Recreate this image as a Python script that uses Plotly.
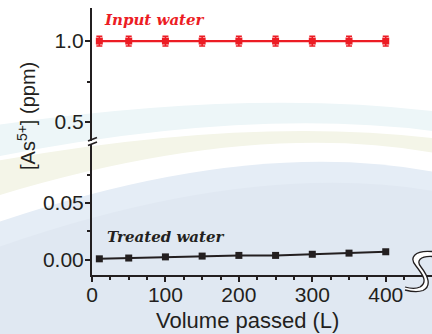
import plotly.graph_objects as go

# ---------------- data ----------------
volume = [10, 50, 100, 150, 200, 250, 300, 350, 400]
input_as = [1.0, 1.0, 1.0, 1.0, 1.0, 1.0, 1.0, 1.0, 1.0]
input_err = [0.03, 0.03, 0.03, 0.03, 0.03, 0.03, 0.03, 0.03, 0.03]
treated_as = [0.001, 0.0017, 0.0027, 0.0034, 0.004, 0.004, 0.005, 0.006, 0.0072]

x_ticks = [0, 100, 200, 300, 400]
x_minor = [25, 50, 75, 125, 150, 175, 225, 250, 275, 325, 350, 375, 425]
y_low_ticks = [0.0, 0.05]
y_low_minor = [0.025, 0.075]
y_high_ticks = [0.5, 1.0]
y_high_minor = [0.75]

RED = "#ec1c24"
INK = "#231f20"

W, H = 432, 334
L, R, T, B = 92, 0, 8, 59
PW, PH = W - L - R, H - T - B


def px(x, y):
    return (x - L) / PW, (H - B - y) / PH


def path(cmds):
    out = []
    for c in cmds:
        if isinstance(c, str):
            out.append(c)
        else:
            a, b = px(*c)
            out.append(f"{a:.5f},{b:.5f}")
    return " ".join(out)


fig = go.Figure()
fig.add_trace(go.Scatter(
    x=volume, y=treated_as, xaxis="x", yaxis="y", mode="lines+markers",
    line=dict(color=INK, width=2), marker=dict(symbol="square", size=7, color=INK),
    showlegend=False, cliponaxis=False))
fig.add_trace(go.Scatter(
    x=volume, y=input_as, xaxis="x", yaxis="y2", mode="lines+markers",
    line=dict(color=RED, width=2.2), marker=dict(symbol="square", size=7, color=RED),
    error_y=dict(type="data", array=input_err, color=RED, thickness=1.5, width=3),
    showlegend=False, cliponaxis=False))

axcommon = dict(showline=True, linecolor=INK, linewidth=2, ticks="outside", ticklen=5,
                tickwidth=1.5, tickcolor=INK, showgrid=False, zeroline=False,
                tickfont=dict(family="Liberation Sans, Arial", size=21, color=INK))

shapes = []
# background swooshes
shapes.append(dict(type="path", xref="paper", yref="paper", layer="below", line=dict(width=0),
                   fillcolor="#edf6f8",
                   path=path(["M", (-10, 126), "Q", (250, 88), (440, 112), "L", (440, 132),
                              "Q", (250, 106), (-10, 158), "Z"])))
shapes.append(dict(type="path", xref="paper", yref="paper", layer="below", line=dict(width=0),
                   fillcolor="#f4f5e8",
                   path=path(["M", (-10, 162), "Q", (250, 115), (440, 139), "L", (440, 154),
                              "Q", (250, 118), (-10, 198), "Z"])))
shapes.append(dict(type="path", xref="paper", yref="paper", layer="below", line=dict(width=0),
                   fillcolor="#e5edf6",
                   path=path(["M", (-10, 225), "Q", (250, 135), (440, 173), "L", (440, 340),
                              "L", (-10, 340), "Z"])))
shapes.append(dict(type="path", xref="paper", yref="paper", layer="below", line=dict(width=0),
                   fillcolor="#e0e8f2",
                   path=path(["M", (-10, 250), "Q", (250, 158), (440, 192), "L", (440, 340),
                              "L", (-10, 340), "Z"])))
# y-axis break marks
for y0 in (141, 145.5):
    a0, b0 = px(88, y0)
    a1, b1 = px(97, y0 - 3.5)
    shapes.append(dict(type="line", xref="paper", yref="paper", x0=a0, y0=b0, x1=a1, y1=b1,
                       line=dict(color=INK, width=1.8)))
# x-axis break squiggle
outer = [(432, 251.5), (414, 250), (409, 258), (416, 266), (423, 275), (428, 282), (420, 287),
         (415, 289.5), (410, 288.5), (405, 287)]
inner = [(432, 256.5), (420, 256), (416, 261), (421, 267), (428, 276), (432, 286), (423, 290.5),
         (417, 292.5), (411, 291.5), (405, 290)]
fill_cmds = ["M", outer[0], "C", outer[1], outer[2], outer[3], "C", outer[4], outer[5], outer[6],
             "C", outer[7], outer[8], outer[9], "L", inner[9],
             "C", inner[8], inner[7], inner[6], "C", inner[5], inner[4], inner[3],
             "C", inner[2], inner[1], inner[0], "Z"]
shapes.append(dict(type="path", xref="paper", yref="paper", line=dict(width=0),
                   fillcolor="#ffffff", path=path(fill_cmds)))
for s in (outer, inner):
    shapes.append(dict(type="path", xref="paper", yref="paper", line=dict(color=INK, width=1.3),
                       path=path(["M", s[0], "C", s[1], s[2], s[3], "C", s[4], s[5], s[6],
                                  "C", s[7], s[8], s[9]])))

annotations = []
ax_, ay_ = px(26, 116)
annotations.append(dict(xref="paper", yref="paper", x=ax_, y=ay_, xanchor="center", yanchor="middle",
                        text="[As<sup>5+</sup>] (ppm)", textangle=-90, showarrow=False,
                        font=dict(family="Liberation Sans, Arial", size=20, color=INK)))
ax_, ay_ = px(247, 320)
annotations.append(dict(xref="paper", yref="paper", x=ax_, y=ay_, xanchor="center", yanchor="middle",
                        text="Volume passed (L)", showarrow=False,
                        font=dict(family="Liberation Sans, Arial", size=22, color=INK)))
ax_, ay_ = px(102, 20)
annotations.append(dict(xref="paper", yref="paper", x=ax_, y=ay_, xanchor="left", yanchor="middle",
                        text="<b><i>Input water</i></b>", showarrow=False,
                        font=dict(family="DejaVu Serif", size=15, color=RED)))
ax_, ay_ = px(105, 237)
annotations.append(dict(xref="paper", yref="paper", x=ax_, y=ay_, xanchor="left", yanchor="middle",
                        text="<b><i>Treated water</i></b>", showarrow=False,
                        font=dict(family="DejaVu Serif", size=15, color=INK)))

fig.update_layout(
    width=W, height=H, margin=dict(l=L, r=R, t=T, b=B),
    paper_bgcolor="#ffffff", plot_bgcolor="rgba(0,0,0,0)",
    xaxis=dict(domain=[0, 1], range=[0, 463], anchor="y", tickvals=x_ticks, ticklabelstandoff=-5,
               minor=dict(tickvals=x_minor, ticks="outside", ticklen=3, tickwidth=1.5, tickcolor=INK),
               **axcommon),
    yaxis=dict(domain=[0, 131 / PH], range=[-0.0132, 0.1018], anchor="x", tickvals=y_low_ticks,
               tickformat=".2f", ticklabelstandoff=-3,
               minor=dict(tickvals=y_low_minor, ticks="outside", ticklen=3, tickwidth=1.5, tickcolor=INK),
               **axcommon),
    yaxis2=dict(domain=[134 / PH, 1], range=[0.383, 1.204], anchor="x", tickvals=y_high_ticks,
                tickformat=".1f", ticklabelstandoff=-3,
                minor=dict(tickvals=y_high_minor, ticks="outside", ticklen=3, tickwidth=1.5, tickcolor=INK),
                **axcommon),
    shapes=shapes, annotations=annotations,
)
fig.write_html("out.html", config={"displayModeBar": False},
               post_script="document.body.style.margin='0';document.body.style.overflow='hidden';")
